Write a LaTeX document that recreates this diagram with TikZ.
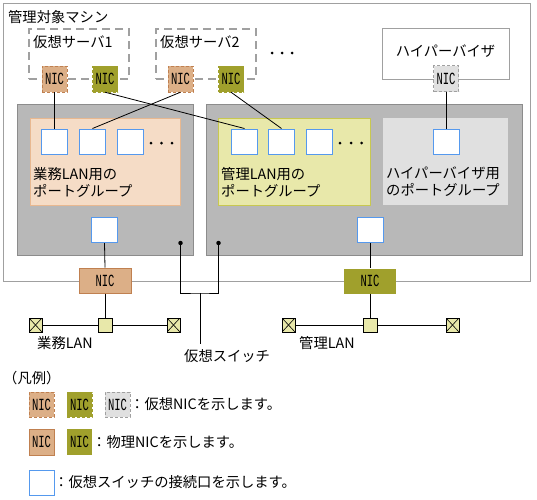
\documentclass[tikz,border=0pt]{standalone}
\usepackage{fontspec}
\setmainfont{Noto Sans CJK JP}
\newfontfamily\nicfont[FakeStretch=0.62]{Liberation Mono}
\definecolor{orgF}{HTML}{DCAF87}
\definecolor{orgD}{HTML}{C08050}
\definecolor{oliF}{HTML}{A0A02C}
\definecolor{gryF}{HTML}{E0E0E0}
\definecolor{gryD}{HTML}{A0A0A0}
\definecolor{swF}{HTML}{B8B8B8}
\definecolor{swD}{HTML}{8C8C8C}
\definecolor{pgoF}{HTML}{F5DCC6}
\definecolor{pgoD}{HTML}{E8B890}
\definecolor{pgyF}{HTML}{E8E8AA}
\definecolor{pgyD}{HTML}{C8C850}
\definecolor{portD}{HTML}{5599EE}
\definecolor{hubF}{HTML}{E8E8AA}
\begin{document}
\begin{tikzpicture}[x=1pt,y=-1pt,
  txt/.style={font=\fontsize{14.3}{17}\selectfont, inner sep=0, anchor=west, align=left},
  boxx/.style 2 args={inner sep=0, minimum width=#1, minimum height=#2},
  vnic/.style={boxx={25}{26}, dashed, dash pattern=on 3pt off 2pt, font=\nicfont\fontsize{17}{17}\selectfont},
  vnicO/.style={vnic, draw=orgD, fill=orgF},
  vnicL/.style={vnic, draw=oliF, fill=oliF},
  vnicG/.style={vnic, draw=gryD, fill=gryF},
  pnic/.style={boxx={52}{25}, font=\nicfont\fontsize{17}{17}\selectfont},
  port/.style={boxx={26}{25}, draw=portD, fill=white, line width=1pt},
  hub/.style={boxx={14}{14}, draw=black, fill=hubF, line width=0.8pt},
  term/.style={boxx={13}{14}, draw=black, fill=hubF, line width=0.8pt, path picture={
      \draw[line width=0.6pt] (path picture bounding box.north west) -- (path picture bounding box.south east)
        (path picture bounding box.north east) -- (path picture bounding box.south west);}},
  wire/.style={draw=black, line width=0.8pt},
  sdot/.style={circle, fill=black, inner sep=0, minimum size=4.5pt},
  pdot/.style={circle, fill=black, inner sep=0, minimum size=3pt},
  vs/.style={boxx={100}{50}, draw=gryD, line width=2pt, dash pattern=on 8pt off 5pt},
]
\useasboundingbox (0,0) rectangle (537,499);
% outer machine
\node[boxx={527}{278}, draw=gryD, line width=1pt] (outer) at (266.5,142) {};
\node[txt] (outerl) at (8,17) {管理対象マシン};
% virtual servers
\node[vs] (vs1) at (79,54) {};
\node[txt] (vs1l) at (33,42) {仮想サーバ1};
\node[vs] (vs2) at (206,54) {};
\node[txt] (vs2l) at (160,42) {仮想サーバ2};
\node[pdot] (vd1) at (272,53) {};
\node[pdot] (vd2) at (282,53) {};
\node[pdot] (vd3) at (292,53) {};
% hypervisor
\node[boxx={127}{51}, draw=gryD, line width=1pt] (hyp) at (445.5,53.5) {};
\node[txt, anchor=center] (hypl) at (445.5,51) {ハイパーバイザ};
% switches
\node[boxx={176}{151}, draw=swD, fill=swF, line width=1pt] (sw1) at (105,179.5) {};
\node[boxx={316}{151}, draw=swD, fill=swF, line width=1pt] (sw2) at (364,179.5) {};
% port groups
\node[boxx={150}{87}, draw=pgoD, fill=pgoF, line width=1pt] (pg1) at (105,161.5) {};
\node[boxx={152}{87}, draw=pgyD, fill=pgyF, line width=1pt] (pg2) at (294,161.5) {};
\node[boxx={125}{87}, fill=gryF] (pg3) at (445.5,161.5) {};
\node[txt] (pg1l) at (33,182) {業務LAN用の\\ポートグループ};
\node[txt] (pg2l) at (221,182) {管理LAN用の\\ポートグループ};
\node[txt] (pg3l) at (386,182) {ハイパーバイザ用\\のポートグループ};
% ports
\node[port] (p11) at (54.5,141.5) {};
\node[port] (p12) at (92.5,141.5) {};
\node[port] (p13) at (130,141.5) {};
\node[pdot] (d11) at (151,143) {};
\node[pdot] (d12) at (161.5,143) {};
\node[pdot] (d13) at (172,143) {};
\node[port] (p21) at (244.5,141.5) {};
\node[port] (p22) at (281.5,141.5) {};
\node[port] (p23) at (319.5,141.5) {};
\node[pdot] (d21) at (340,143) {};
\node[pdot] (d22) at (351,143) {};
\node[pdot] (d23) at (361.5,143) {};
\node[port] (p31) at (446,141.5) {};
\node[port] (pb1) at (104.5,230) {};
\node[port] (pb2) at (370,230) {};
% virtual NICs
\node[vnicO] (n11) at (54.5,79) {NIC};
\node[vnicL] (n12) at (105,79) {NIC};
\node[vnicO] (n21) at (180.5,79) {NIC};
\node[vnicL] (n22) at (231,79) {NIC};
\node[vnicG] (nh) at (446,78.5) {NIC};
% connectors NIC -> ports
\draw[wire] (n11.south) -- (p11.north);
\draw[wire] (n12.south) -- (p21.north);
\draw[wire] (n21.south) -- (p12.north);
\draw[wire] (n22.south) -- (p22.north);
\draw[wire] (nh.south) -- (p31.north);
% physical NICs
\node[pnic, draw=orgD, fill=orgF, line width=1pt] (pn1) at (105,280.5) {NIC};
\node[pnic, fill=oliF] (pn2) at (370,281) {NIC};
\draw[wire] (pb1.south) -- (pn1.north);
\draw[wire] (pb2.south) -- (pn2.north);
% LANs
\node[hub] (h1) at (105,325) {};
\node[term] (t11) at (35.5,325) {};
\node[term] (t12) at (173.5,325) {};
\node[hub] (h2) at (370,325) {};
\node[term] (t21) at (288.5,325) {};
\node[term] (t22) at (452.5,325) {};
\draw[wire] (pn1.south) -- (h1.north);
\draw[wire] (pn2.south) -- (h2.north);
\draw[wire] (t11.east) -- (h1.west);
\draw[wire] (h1.east) -- (t12.west);
\draw[wire] (t21.east) -- (h2.west);
\draw[wire] (h2.east) -- (t22.west);
\node[txt] (lan1) at (37,343) {業務LAN};
\node[txt] (lan2) at (299,343) {管理LAN};
% virtual switch label
\node[sdot] (sd1) at (180.5,243) {};
\node[sdot] (sd2) at (218.5,243) {};
\coordinate (sb) at (200.5,293);
\coordinate (st) at (200.5,344);
\draw[wire] (sd1.center) |- (sb) -| (sd2.center);
\draw[wire] (sb) -- (st);
\node[txt] (swl) at (184,356) {仮想スイッチ};
% legend
\node[txt] (lg) at (3,378) {（凡例）};
\node[vnicO, minimum height=25] (l1) at (41.5,404.5) {NIC};
\node[vnicL, minimum height=25] (l2) at (79.5,404.5) {NIC};
\node[vnicG, minimum height=25] (l3) at (117.5,404.5) {NIC};
\node[txt] (l1t) at (130,404.5) {：仮想NICを示します。};
\node[pnic, minimum width=25, minimum height=26, draw=orgD, fill=orgF, line width=1pt] (l4) at (41.5,442) {NIC};
\node[pnic, minimum width=25, minimum height=26, fill=oliF] (l5) at (79.5,442) {NIC};
\node[txt] (l4t) at (92,442) {：物理NICを示します。};
\node[port, minimum width=25] (l6) at (41.5,482.5) {};
\node[txt] (l6t) at (54,482.5) {：仮想スイッチの接続口を示します。};
\end{tikzpicture}
\end{document}
